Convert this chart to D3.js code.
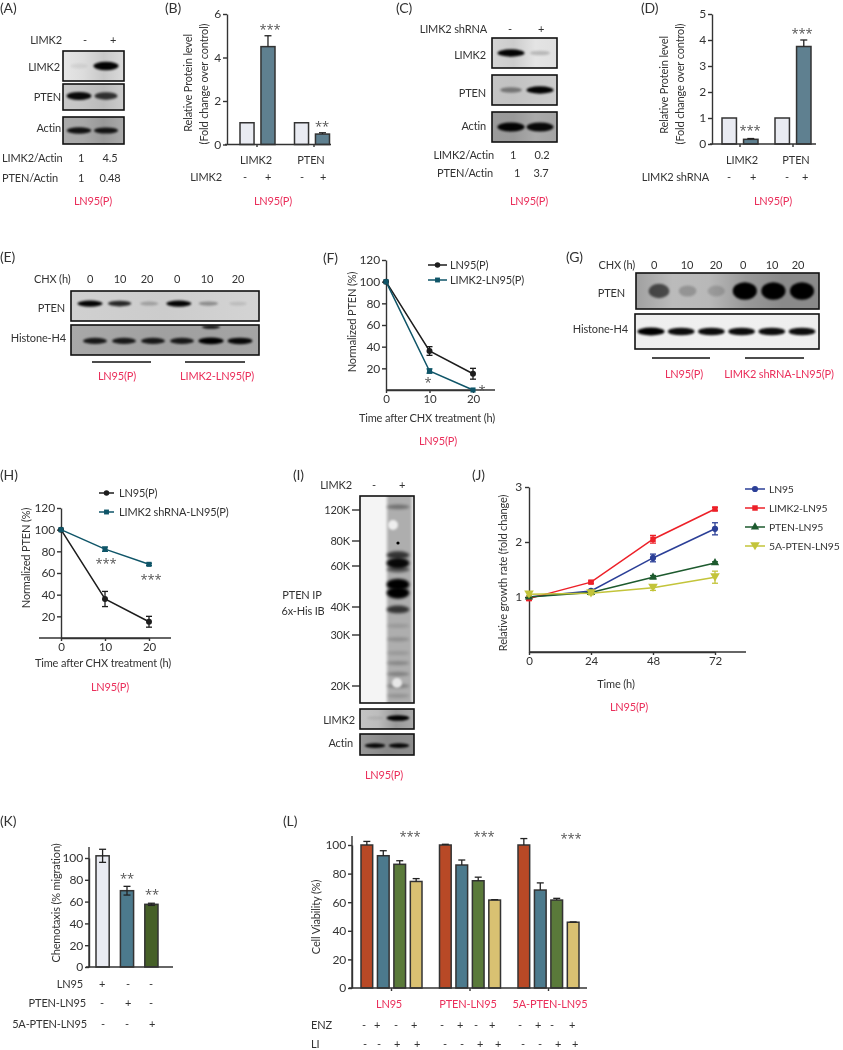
<!DOCTYPE html>
<html><head><meta charset="utf-8">
<script src="https://d3js.org/d3.v7.min.js"></script>
<style>html,body{margin:0;padding:0;background:#fff}svg{display:block;filter:blur(0.35px)}text{font-family:Lato,sans-serif;fill:#333;letter-spacing:-0.15px}</style>
</head><body>
<svg id="c" width="843" height="1050"></svg>
<script>
// ---- data ----
const proteins=["LIMK2","PTEN"], signs=["-","+"];
const bValues=[1,4.5,1,0.48], bErrors=[0,0.5,0,0.06];
const dValues=[1,0.18,1,3.75], dErrors=[0,0.03,0,0.25];
const hours=[0,10,20];
const fCtrl=[100,36,15], fCtrlErr=[0,4,5], fOver=[100,17.5,0], fOverErr=[0,2,0];
const hCtrl=[100,36,15], hCtrlErr=[0,7,5], hKnock=[100,82,68], hKnockErr=[0,2,1];
const jHours=[0,24,48,72];
const jNames=["LN95","LIMK2-LN95","PTEN-LN95","5A-PTEN-LN95"];
const jLN95=[1,1.11,1.71,2.24], jLN95Err=[0,0.02,0.07,0.11];
const jLIMK2=[0.97,1.27,2.05,2.6], jLIMK2Err=[0.03,0.02,0.07,0.03];
const jPTEN=[1,1.08,1.36,1.62], jPTENErr=[0,0.02,0.03,0.02];
const j5A=[1.05,1.07,1.17,1.36], j5AErr=[0.03,0.03,0.05,0.11];
const kNames=["LN95","PTEN-LN95","5A-PTEN-LN95"];
const kValues=[102,70,57.5], kErrors=[6,4,1];
const lGroups=["LN95","PTEN-LN95","5A-PTEN-LN95"];
const lConds=["c","e","l","el"];
const lValues=[[100,92.5,86.5,74.5],[100,86,75,61.5],[100,68.5,61.5,46]];
const lErrors=[[2.5,3.5,2.5,2],[0.5,3.5,2.5,0.3],[4.5,5,1.2,0.2]];
const enzSigns=["-","+","-","+","-","+","-","+","-","+","-","+"];
const liSigns=["-","-","+","+","-","-","+","+","-","-","+","+"];
// band intensities of the blots, lane by lane
const aLimk=[0.06,0.98], aPten=[0.95,0.75], aActin=[0.9,0.88];
const cLimk=[0.98,0.18], cPten=[0.4,0.98], cActin=[0.98,0.95];
const eLanes=["0","10","20","0","10","20"];
const ePten=[0.98,0.8,0.22,0.98,0.32,0.1], eH4=[0.85,0.85,0.85,0.85,1,0.95];
const gPten=[0.6,0.2,0.15,1,1,1], gH4=[1,0.95,0.95,0.95,0.95,0.95];
const iMarkers=[120,80,60,40,30,20];
const iBandKda=[125,68,62,58,50,46,39,33,29,26,24,22,20,18.5];
const iBandInt=[0.35,0.7,0.95,0.5,1,1,0.7,0.12,0.18,0.12,0.22,0.25,0.25,0.15];
const iLimk=[0.08,1], iActin=[0.95,0.95];

// ---- helpers ----
const svg=d3.select("#c"), INK="#333", RED="#ea2f5b", FS=11;
const defs=svg.append("defs");
[[1,0.8],[2,1.6],[3,3]].forEach(([n,s])=>defs.append("filter").attr("id","b"+n)
  .attr("x","-50%").attr("y","-80%").attr("width","200%").attr("height","260%")
  .append("feGaussianBlur").attr("stdDeviation",s));
function T(x,y,s,o={}){
  const t=svg.append("text").attr("x",x).attr("y",y).attr("dy","0.35em").text(s)
   .attr("text-anchor",o.a||"middle").style("font-size",(o.s||FS)+"px");
  if(o.c)t.style("fill",o.c);
  if(o.f)t.style("font-family",o.f);
  if(o.r)t.attr("transform",`rotate(${o.r} ${x} ${y})`);
  return t;
}
const R=(x,y,s,o={})=>T(x,y,s,{...o,a:"end"});
const L=(x,y,s,o={})=>T(x,y,s,{...o,a:"start"});
const RED_T=(x,y,s)=>T(x,y,s,{c:RED});
const Stars=(x,y,n)=>T(x,y,"*".repeat(n),{s:13,c:"#555",f:'"Open Sans",sans-serif'});
function line(x1,y1,x2,y2,w=1.4,c=INK,g=svg){return g.append("line").attr("x1",x1).attr("y1",y1).attr("x2",x2).attr("y2",y2).attr("stroke",c).attr("stroke-width",w);}
let uid=0;
function blot({x,y,w,h,bg,bands,lanes,rx=11,ry=3.5,blur=1,yf=0.5,extra}){
  const id="clip"+(++uid), g=svg.append("g");
  defs.append("clipPath").attr("id",id).append("rect").attr("x",x).attr("y",y).attr("width",w).attr("height",h);
  const gid="grad"+uid, gr=defs.append("linearGradient").attr("id",gid);
  bg.forEach((c,i)=>gr.append("stop").attr("offset",bg.length>1?i/(bg.length-1):0).attr("stop-color",c));
  const ig=g.append("g").attr("clip-path",`url(#${id})`);
  ig.append("rect").attr("x",x).attr("y",y).attr("width",w).attr("height",h).attr("fill",`url(#${gid})`);
  ig.selectAll("ellipse").data(bands).join("ellipse")
    .attr("cx",(d,i)=>lanes(i)).attr("cy",y+h*yf)
    .attr("rx",d=>rx*(0.7+0.35*d)).attr("ry",d=>ry*(0.6+0.5*d))
    .attr("fill","#000").attr("opacity",d=>d).attr("filter",`url(#b${blur})`);
  if(extra)extra(ig);
  g.append("rect").attr("x",x).attr("y",y).attr("width",w).attr("height",h).attr("fill","none").attr("stroke","#111").attr("stroke-width",1.6);
}
function yAxis(scale,x,ticks,o={}){
  const a=d3.axisLeft(scale).tickValues(ticks).tickFormat(d3.format("d")).tickSize(o.t||4).tickPadding(o.p||2).tickSizeOuter(0);
  const g=svg.append("g").attr("transform",`translate(${x},0)`).call(a);
  g.selectAll("line,path").attr("stroke",INK).attr("stroke-width",1.4);
  g.selectAll("text").style("font-size",(o.s||12)+"px").style("font-family",'Lato,sans-serif').style("fill",INK);
  return g;
}
function xAxis(scale,y,ticks,o={}){
  const a=d3.axisBottom(scale).tickValues(ticks).tickFormat(d3.format("d")).tickSize(o.t||3).tickPadding(o.p||2).tickSizeOuter(0);
  const g=svg.append("g").attr("transform",`translate(0,${y})`).call(a);
  g.selectAll("line,path").attr("stroke",INK).attr("stroke-width",1.4);
  g.selectAll("text").style("font-size",(o.s||11.5)+"px").style("font-family",'Lato,sans-serif').style("fill",INK);
  return g;
}
function bar(xl,w,yS,v,err,fill,both){
  const y0=yS(0), yv=yS(v), c=xl+w/2;
  svg.append("rect").attr("x",xl).attr("y",yv).attr("width",w).attr("height",y0-yv).attr("fill",fill).attr("stroke","#333").attr("stroke-width",1.5);
  if(err>0){
    const t=yS(v+err), b=both?yS(v-err):yv;
    line(c,b,c,t,1.3,"#222"); line(c-3.5,t,c+3.5,t,1.3,"#222");
    if(both)line(c-3.5,b,c+3.5,b,1.3,"#222");
  }
}
function symbol(type,x,y,size,c){
  svg.append("path").attr("d",d3.symbol().type(type).size(size)()).attr("transform",`translate(${x},${y})`).attr("fill",c);
}
const triDown={draw(ctx,size){const r=Math.sqrt(size/1.3);ctx.moveTo(-r,-r*.8);ctx.lineTo(r,-r*.8);ctx.lineTo(0,r*.9);ctx.closePath();}};
function series(x,y,vals,errs,xs,color,type,size=28,w=1.5){
  const lg=d3.line().x((d,i)=>x(xs[i])).y(d=>y(d));
  vals.forEach((v,i)=>{ if(errs[i]>0){const c=x(xs[i]),t=y(v+errs[i]),b=y(v-errs[i]);
    line(c,t,c,b,1.3,color);line(c-3,t,c+3,t,1.3,color);line(c-3,b,c+3,b,1.3,color);} });
  svg.append("path").attr("d",lg(vals)).attr("fill","none").attr("stroke",color).attr("stroke-width",w);
  vals.forEach((v,i)=>symbol(type,x(xs[i]),y(v),size,color));
}
function legendRow(x1,x2,y,tx,label,color,type,size=24,w=1.5,fs=FS){
  line(x1,y,x2,y,w,color); symbol(type,(x1+x2)/2,y,size,color); L(tx,y,label,{s:fs});
}
function groupBars(groups,values,errors,cx,inner,yS,fills){
  let k=0;
  groups.forEach((g,gi)=>inner.domain().forEach((s,si)=>{
    const xl=cx(g)+inner(s);
    bar(xl,inner.bandwidth(),yS,values[k],errors[k],fills[si]);k++;
  }));
}

// ---- panel letters ----
[["(A)",0,8],["(B)",165,8],["(C)",396,8],["(D)",641,8],["(E)",0,257],["(F)",323,258],["(G)",566,257],["(H)",0,475],["(I)",293,475],["(J)",472,475],["(K)",0,821],["(L)",283,821]]
  .forEach(d=>L(d[1],d[2],d[0],{s:14}));

// ---- A ----
const aLane=d3.scalePoint().domain([0,1]).range([79,106]);
R(62,40,"LIMK2");T(85,40,"-");T(113,40,"+");
blot({x:63,y:51,w:61,h:30,bg:["#e6e6e6","#dcdcdc","#c8c8c8","#dadada"],bands:aLimk,lanes:aLane,rx:12,ry:3.8});
blot({x:63,y:84,w:61,h:26,bg:["#c8c8c8","#c4c4c4","#bbb","#ccc"],bands:aPten,lanes:aLane,rx:12,ry:3.8,yf:.46});
blot({x:63,y:117,w:61,h:27,bg:["#aaa","#a8a8a8","#999","#aaa"],bands:aActin,lanes:aLane,rx:12,ry:3,yf:.5});
R(60,67,"LIMK2");R(61,97,"PTEN");R(61,128,"Actin");
L(2,158,"LIMK2/Actin");T(81,158,"1");T(110,158,"4.5");
L(2,178,"PTEN/Actin");T(81,178,"1");T(110,178,"0.48");
RED_T(93,201,"LN95(P)");

// ---- B ----
const bY=d3.scaleLinear().domain([0,6]).range([144.5,14]);
const cxB=d3.scalePoint().domain(proteins).range([257.5,312]);
const inB=d3.scaleBand().domain(signs).range([-17.5,17.5]).paddingInner(.33);
const bFills=["#e9ebf2","#5f8090"];
groupBars(proteins,bValues,bErrors,cxB,inB,bY,bFills);
yAxis(bY,227,[0,2,4,6]);
line(225,144.5,331,144.5);
line(257,144.5,257,147);line(314,144.5,314,147);
T(256,160,"LIMK2");T(311,160,"PTEN");
R(222,177,"LIMK2");[245,268,302,323].forEach((x,i)=>T(x,177,signs[i%2]));
T(188,83,"Relative Protein level",{r:-90});T(204,84,"(Fold change over control)",{r:-90});
Stars(270,29,3);Stars(322,126,2);
RED_T(273,201,"LN95(P)");

// ---- C ----
const cLane=d3.scalePoint().domain([0,1]).range([511,540]);
R(487,29,"LIMK2 shRNA");T(510,29,"-");T(541,29,"+");
blot({x:492,y:38,w:65,h:30,bg:["#d4d4d4","#ccc","#e4e4e4","#e0e0e0"],bands:cLimk,lanes:cLane,rx:13,ry:3.4});
blot({x:492,y:75,w:65,h:30,bg:["#c4c4c4","#c2c2c2","#c8c8c8","#ccc"],bands:cPten,lanes:cLane,rx:13,ry:3.4});
blot({x:492,y:112,w:65,h:30,bg:["#9a9a9a","#999","#aaa","#a4a4a4"],bands:cActin,lanes:cLane,rx:13,ry:4.2,yf:.5});
R(486,55,"LIMK2");R(486,93,"PTEN");R(486,126,"Actin");
R(494,155,"LIMK2/Actin");T(513,155,"1");T(542,155,"0.2");
R(493,173,"PTEN/Actin");T(517,173,"1");T(541,173,"3.7");
RED_T(529,201,"LN95(P)");

// ---- D ----
const dY=d3.scaleLinear().domain([0,5]).range([144,14]);
const cxD=d3.scalePoint().domain(proteins).range([740,793]);
const inD=d3.scaleBand().domain(signs).range([-18,18]).paddingInner(.33);
groupBars(proteins,dValues,dErrors,cxD,inD,dY,bFills);
yAxis(dY,712,[0,1,2,3,4,5]);
line(710,144,816,144);
line(740,144,740,147);line(793,144,793,147);
T(742,160,"LIMK2");T(796,160,"PTEN");
R(709,177,"LIMK2 shRNA");[729,753,787,805].forEach((x,i)=>T(x,177,signs[i%2]));
T(664,85,"Relative Protein level",{r:-90});T(680,84,"(Fold change over control)",{r:-90});
Stars(750,130,3);Stars(802,33,3);
RED_T(773,201,"LN95(P)");

// ---- E ----
const eLaneX=d3.scalePoint().domain(d3.range(6)).range([90,238]);
L(34,279,"CHX (h)");
[90,120,147,177,207,238].forEach((x,i)=>T(x,279,eLanes[i]));
blot({x:71,y:291,w:188,h:30,bg:["#d0d0d0","#ccc","#d4d4d4"],bands:ePten,lanes:eLaneX,rx:12,ry:2.8,yf:.42});
blot({x:71,y:325,w:188,h:30,bg:["#a8a8a8","#a0a0a0","#a4a4a4"],bands:eH4,lanes:d3.scalePoint().domain(d3.range(6)).range([95,240]),rx:12,ry:3,yf:.53,
  extra:g=>g.append("ellipse").attr("cx",211).attr("cy",327).attr("rx",9).attr("ry",1.8).attr("fill","#000").attr("opacity",.9).attr("filter","url(#b1)")});
R(65,308,"PTEN");R(66,338,"Histone-H4");
line(92,362,151,362,1.5,"#111");line(185,362,245,362,1.5,"#111");
RED_T(117,376,"LN95(P)");RED_T(217,376,"LIMK2-LN95(P)");

// ---- F ----
const fX=d3.scaleLinear().domain([0,20]).range([386,473]);
const fY=d3.scaleLinear().domain([0,120]).range([390,260]);
yAxis(fY,386,[20,40,60,80,100,120]);
xAxis(fX,390,hours);
line(386,390,495,390);
series(fX,fY,fCtrl,fCtrlErr,hours,"#1d1d1d",d3.symbolCircle,28);
series(fX,fY,fOver,fOverErr,hours,"#0f5568",d3.symbolSquare,26);
legendRow(428,447,265,450,"LN95(P)","#1d1d1d",d3.symbolCircle);
legendRow(428,447,280,450,"LIMK2-LN95(P)","#0f5568",d3.symbolSquare);
T(352,322,"Normalized PTEN (%)",{r:-90});
T(427,418,"Time after CHX treatment (h)");
Stars(428,382,1);Stars(482,390,1);
RED_T(438,441,"LN95(P)");

// ---- G ----
const gLaneX=d3.scalePoint().domain(d3.range(6)).range([659,802]);
R(635,265,"CHX (h)");
[654,687,716,743,772,798].forEach((x,i)=>T(x,265,eLanes[i]));
blot({x:636,y:273,w:183,h:36,bg:["#a0a0a0","#bbb","#b8b8b8","#999","#8a8a8a","#8a8a8a"],bands:gPten,lanes:gLaneX,rx:11.5,ry:8,blur:1,yf:.5});
blot({x:635,y:314,w:184,h:35,bg:["#eee","#f0f0f0","#eee"],bands:gH4,lanes:d3.scalePoint().domain(d3.range(6)).range([651,802]),rx:13,ry:3.6,yf:.5});
R(625,293,"PTEN");R(628,329,"Histone-H4");
line(652,358,710,358,1.5,"#111");line(745,358,804,358,1.5,"#111");
RED_T(684,374,"LN95(P)");RED_T(779,374,"LIMK2 shRNA-LN95(P)");

// ---- H ----
const hX=d3.scaleLinear().domain([0,20]).range([61,149]);
const hY=d3.scaleLinear().domain([0,120]).range([638,508]);
yAxis(hY,61,[20,40,60,80,100,120]);
xAxis(hX,638,hours);
line(39,638,171,638);
series(hX,hY,hCtrl,hCtrlErr,hours,"#1d1d1d",d3.symbolCircle,28);
series(hX,hY,hKnock,hKnockErr,hours,"#0f5568",d3.symbolSquare,26);
legendRow(99,114,493,119,"LN95(P)","#1d1d1d",d3.symbolCircle);
legendRow(99,114,512,119,"LIMK2 shRNA-LN95(P)","#0f5568",d3.symbolSquare);
T(26,558,"Normalized PTEN (%)",{r:-90});
T(103,663,"Time after CHX treatment (h)");
Stars(106,563,3);Stars(151,579,3);
RED_T(110,687,"LN95(P)");

// ---- I ----
const iY=d3.scaleLog().domain(iMarkers).range([510,541,566,607,635,686]);
const iLane=d3.scalePoint().domain([0,1]).range([374,398]);
R(352,485,"LIMK2");T(374,485,"-");T(402,485,"+");
{
  const g=svg.append("g"), id="clipI";
  defs.append("clipPath").attr("id",id).append("rect").attr("x",360).attr("y",496).attr("width",54).attr("height",207);
  const ig=g.append("g").attr("clip-path",`url(#${id})`);
  ig.append("rect").attr("x",360).attr("y",496).attr("width",54).attr("height",207).attr("fill","#f4f4f4");
  ig.append("rect").attr("x",387).attr("y",490).attr("width",25).attr("height",220).attr("fill","#aeaeae").attr("filter","url(#b2)");
  ig.selectAll("ellipse.band").data(iBandKda).join("ellipse").attr("class","band")
    .attr("cx",iLane(1)).attr("cy",d=>iY(d)).attr("rx",11.5).attr("ry",(d,i)=>2+3.8*iBandInt[i]*iBandInt[i])
    .attr("fill","#000").attr("opacity",(d,i)=>iBandInt[i]).attr("filter","url(#b2)");
  ig.append("ellipse").attr("cx",393).attr("cy",525).attr("rx",5).attr("ry",5).attr("fill","#eee").attr("filter","url(#b1)");
  ig.append("ellipse").attr("cx",397).attr("cy",683).attr("rx",5).attr("ry",5).attr("fill","#e8e8e8").attr("filter","url(#b1)");
  ig.append("circle").attr("cx",398).attr("cy",543).attr("r",1.6).attr("fill","#000");
  g.append("rect").attr("x",360).attr("y",496).attr("width",54).attr("height",207).attr("fill","none").attr("stroke","#111").attr("stroke-width",1.6);
}
iMarkers.forEach(m=>{R(350,iY(m),m+"K");line(352,iY(m),360,iY(m),1.3,"#222");});
T(302,595,"PTEN IP");T(303,611,"6x-His IB");
blot({x:360,y:709,w:54,h:20,bg:["#c4c4c4","#bdbdbd","#999","#aaa"],bands:iLimk,lanes:d3.scalePoint().domain([0,1]).range([375,398]),rx:11,ry:2.6,yf:.45});
blot({x:360,y:734,w:54,h:21,bg:["#999","#888","#8c8c8c"],bands:iActin,lanes:d3.scalePoint().domain([0,1]).range([375,399]),rx:10,ry:2.2,yf:.55});
R(355,720,"LIMK2");R(353,743,"Actin");
RED_T(384,775,"LN95(P)");

// ---- J ----
const jX=d3.scaleLinear().domain([0,72]).range([529,715]);
const jY=d3.scaleLinear().domain([0,3]).range([652,487]);
const jColors=["#2b3f97","#ed2028","#1d5a2e","#c3c43a"];
const jTypes=[d3.symbolCircle,d3.symbolSquare,d3.symbolTriangle,triDown];
yAxis(jY,529,[1,2,3],{p:3});
xAxis(jX,652,jHours);
line(529,652,746,652);
[[jLN95,jLN95Err],[jLIMK2,jLIMK2Err],[jPTEN,jPTENErr],[j5A,j5AErr]].forEach((s,i)=>series(jX,jY,s[0],s[1],jHours,jColors[i],jTypes[i],30));
jNames.forEach((n,i)=>legendRow(745,765,[489,508,527,546][i],769,n,jColors[i],jTypes[i],30,1.5,10.4));
T(503,573,"Relative growth rate (fold change)",{r:-90});
T(616,684,"Time (h)");
RED_T(629,707,"LN95(P)");

// ---- K ----
const kY=d3.scaleLinear().domain([0,100]).range([967,858]);
const kB=d3.scaleBand().domain(kNames).range([96,158]).paddingInner(.46);
const kFills=["#e9ebf2","#4c7a8d","#466028"];
kNames.forEach((n,i)=>bar(kB(n),kB.bandwidth(),kY,kValues[i],kErrors[i],kFills[i],true));
const kAxis=yAxis(kY,89,[0,20,40,60,80,100]);
line(89,847,89,967);line(86,967,173,967);
T(56,903,"Chemotaxis (% migration)",{r:-90});
Stars(127,878,2);Stars(152,894,2);
R(83,984,kNames[0]);R(86,1003,kNames[1]);R(87,1024,kNames[2]);
[[102,128,151],[102,128,151],[103,127,152]].forEach((xs,r)=>xs.forEach((x,c)=>T(x,[984,1003,1024][r],r===c?"+":"-")));

// ---- L ----
const lY=d3.scaleLinear().domain([0,100]).range([988,845]);
const lCx=d3.scalePoint().domain(lGroups).range([391.5,548.5]);
const lIn=d3.scaleBand().domain(lConds).range([-30.5,30.5]).paddingInner(.29);
const lFills=["#b84926","#4c7a8d","#5a7a3a","#d9c172"];
lGroups.forEach((g,gi)=>lConds.forEach((c,ci)=>bar(lCx(g)+lIn(c),lIn.bandwidth(),lY,lValues[gi][ci],lErrors[gi][ci],lFills[ci])));
yAxis(lY,352,[0,20,40,60,80,100]);
line(352,836,352,988);line(349,988,587,988);
lGroups.forEach(g=>line(lCx(g),988,lCx(g),991));
T(316,917,"Cell Viability (%)",{r:-90});
Stars(410,836,3);Stars(484,836,3);Stars(571,838,3);
[389,468,550].forEach((x,i)=>RED_T(x,1004,lGroups[i]));
L(311,1025,"ENZ");L(311,1044,"LI");
[364,377,396,414,442,460,476,492,520,538,552,572].forEach((x,i)=>T(x,1025,enzSigns[i]));
[365,379,397,417,445,462,480,498,523,540,558,575].forEach((x,i)=>T(x,1044,liSigns[i]));
</script>
</body></html>
